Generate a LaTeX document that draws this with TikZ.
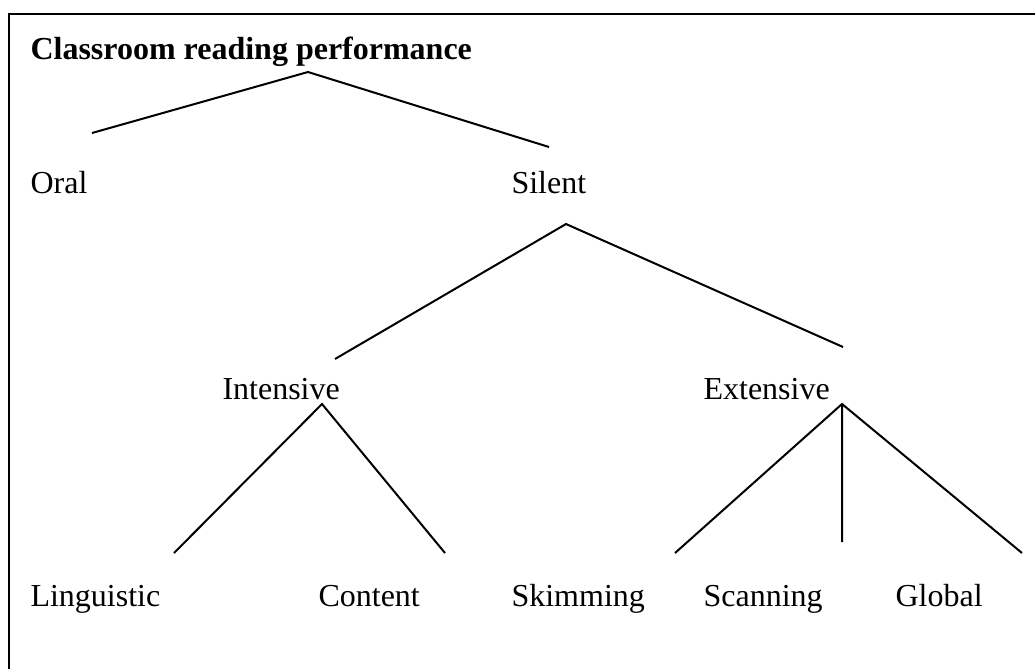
\documentclass[tikz,border=0pt]{standalone}
\usepackage{fontspec}
\setmainfont{Liberation Serif}
\tikzset{
x=0.375pt, y=-0.375pt, % one unit is one pixel of the page, y runs down
every node/.style={anchor=base west, inner sep=0pt, font=\fontsize{12}{14}\selectfont}, % text sits on its baseline
branch/.style={line width=0.75pt}, % the lines of the tree
frame/.style={line width=0.9pt}, % the edge of the box
}
\begin{document}
\begin{tikzpicture}
    \useasboundingbox (0,0) rectangle (1035,669);
    \draw[frame] (9,669) -- (9,14) -- (1035,14);
    \node[font=\fontsize{12}{14}\selectfont\bfseries] (perf) at (30,59) {Classroom reading performance};
    \node (oral) at (30,193) {Oral};
    \node (silent) at (511,193) {Silent};
    \node (intensive) at (222,399) {Intensive};
    \node (extensive) at (703,399) {Extensive};
    \node (linguistic) at (30,606) {Linguistic};
    \node (content) at (318,606) {Content};
    \node (skimming) at (511,606) {Skimming};
    \node (scanning) at (703,606) {Scanning};
    \node (global) at (895,606) {Global};
    \coordinate (perfTop) at (308,72);
    \coordinate (oralEnd) at (92,133);
    \coordinate (silentEnd) at (549,147);
    \coordinate (silentTop) at (566,224);
    \coordinate (intEnd) at (335,359);
    \coordinate (extEnd) at (843,347);
    \coordinate (intTop) at (322,404);
    \coordinate (lingEnd) at (174,553);
    \coordinate (contEnd) at (445,553);
    \coordinate (extTop) at (842,404);
    \coordinate (skimEnd) at (675,553);
    \coordinate (scanEnd) at (842,542);
    \coordinate (globEnd) at (1022,553);
    \draw[branch] (oralEnd) -- (perfTop) -- (silentEnd);
    \draw[branch] (intEnd) -- (silentTop) -- (extEnd);
    \draw[branch] (lingEnd) -- (intTop) -- (contEnd);
    \draw[branch] (skimEnd) -- (extTop) -- (globEnd)
    (extTop) -- (scanEnd);
  \end{tikzpicture}
\end{document}
